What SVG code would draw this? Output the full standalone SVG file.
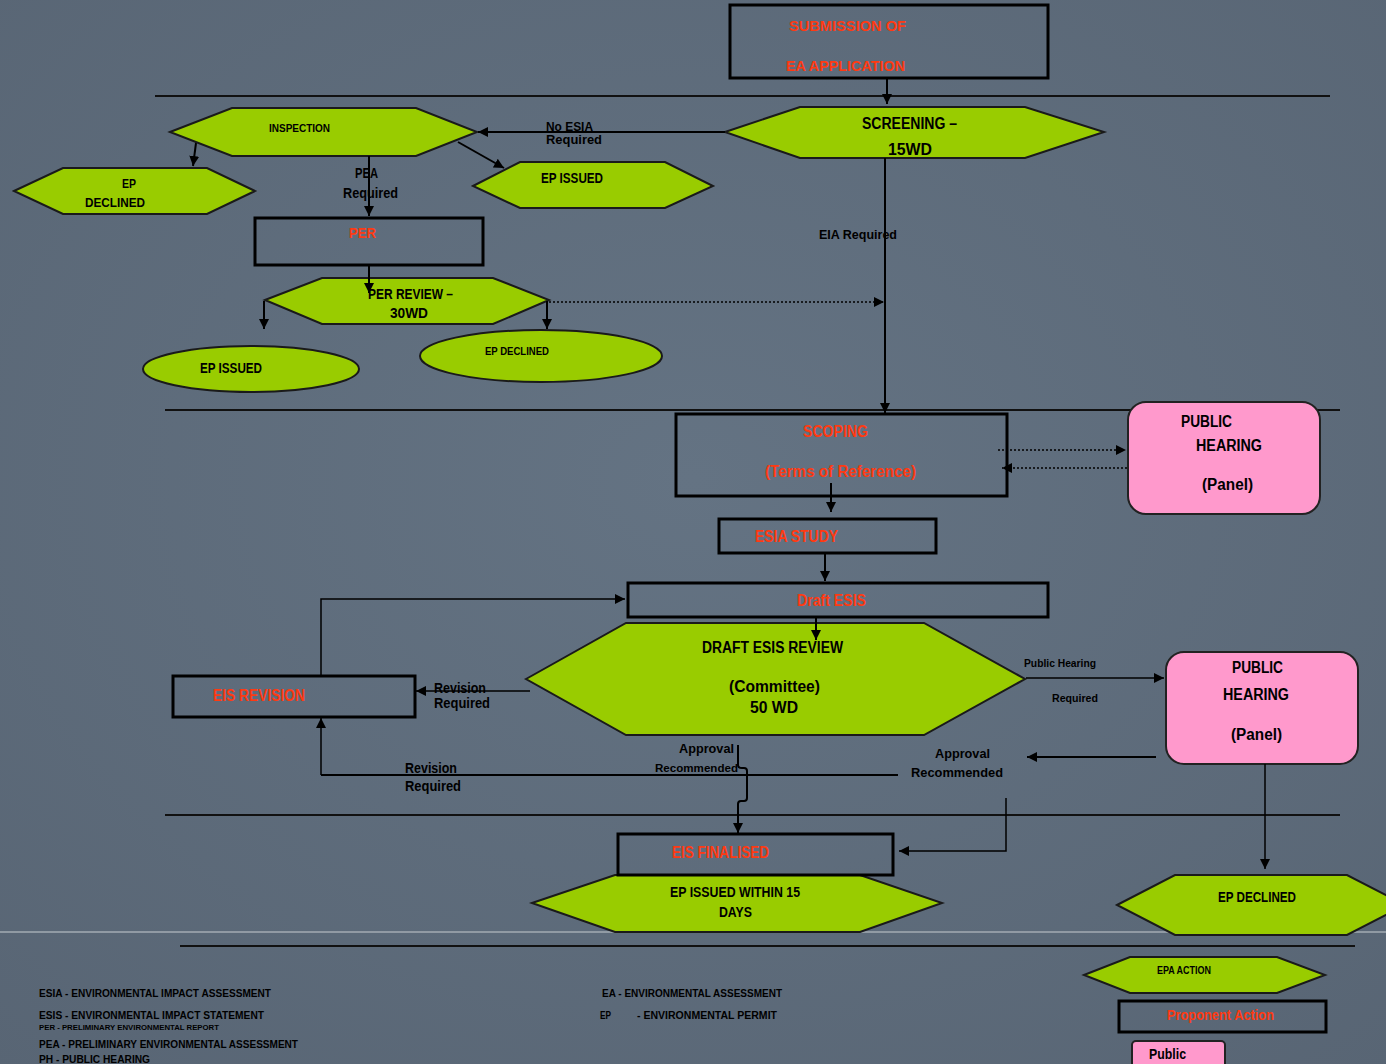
<svg xmlns="http://www.w3.org/2000/svg" width="1386" height="1064" viewBox="0 0 1386 1064">
  <defs>
    <radialGradient id="bg" cx="0.5" cy="0.45" r="0.75">
      <stop offset="0" stop-color="#647383"/>
      <stop offset="1" stop-color="#586574"/>
    </radialGradient>
    <marker id="ah" markerUnits="userSpaceOnUse" markerWidth="12" markerHeight="12" refX="10" refY="5" orient="auto">
      <path d="M0,0 L10,5 L0,10 z" fill="#000"/>
    </marker>
    <style>
      .hex { fill: #99cc00; stroke: #1a1a1a; stroke-width: 2; }
      .box { fill: none; stroke: #000; stroke-width: 3; }
      .ph { fill: #ff99cc; stroke: #222; stroke-width: 2; }
      .sep { stroke: #111; stroke-width: 2; }
      .t { font-family: "Liberation Sans", Arial, sans-serif; font-weight: bold; fill: #000; }
      .r { fill: #ff3a12; }
      .c { stroke: #000; stroke-width: 2; fill: none; }
      .thin { stroke: #000; stroke-width: 1.5; fill: none; }
      .dot { stroke: #000; stroke-width: 1.5; fill: none; stroke-dasharray: 2 2; }
    </style>
  </defs>

  <!-- backdrop and phase separators -->
  <rect width="1386" height="1064" fill="url(#bg)"/>
  <line x1="0" y1="932" x2="1386" y2="932" stroke="#a3abb3" stroke-width="1.5"/>
  <g id="separators">
    <line class="sep" x1="155" y1="96" x2="1330" y2="96"/>
    <line class="sep" x1="165" y1="410" x2="1340" y2="410"/>
    <line class="sep" x1="165" y1="815" x2="1340" y2="815"/>
    <line class="sep" x1="180" y1="946" x2="1355" y2="946"/>
  </g>

  <g id="submission">
    <rect class="box" x="730" y="5" width="318" height="73"/>
    <text class="t r" font-size="15.5" x="789" y="30.6" textLength="117" lengthAdjust="spacingAndGlyphs">SUBMISSION OF</text>
    <text class="t r" font-size="15.5" x="786" y="70.6" textLength="119" lengthAdjust="spacingAndGlyphs">EA APPLICATION</text>
  </g>

  <g id="screening">
    <polygon class="hex" points="725,132 800,107 1025,107 1104,132 1025,158 800,158"/>
    <text class="t" font-size="16" x="862" y="128.8" textLength="95" lengthAdjust="spacingAndGlyphs">SCREENING –</text>
    <text class="t" font-size="16" x="888" y="154.8" textLength="44" lengthAdjust="spacingAndGlyphs">15WD</text>
  </g>

  <g id="inspection">
    <polygon class="hex" points="170,132 232,108 416,108 477,132 416,156 232,156"/>
    <text class="t" font-size="11" x="269" y="131.5" textLength="61" lengthAdjust="spacingAndGlyphs">INSPECTION</text>
  </g>

  <g id="ep-declined-1">
    <polygon class="hex" points="14,191 63,168 207,168 255,191 207,214 63,214"/>
    <text class="t" font-size="13.5" x="122" y="188.4" textLength="14" lengthAdjust="spacingAndGlyphs">EP</text>
    <text class="t" font-size="13.5" x="85" y="207.4" textLength="60" lengthAdjust="spacingAndGlyphs">DECLINED</text>
  </g>

  <g id="ep-issued-1">
    <polygon class="hex" points="473,186 520,162 665,162 713,186 665,208 520,208"/>
    <text class="t" font-size="14" x="541" y="182.7" textLength="62" lengthAdjust="spacingAndGlyphs">EP ISSUED</text>
  </g>

  <g id="per">
    <rect class="box" x="255" y="218" width="228" height="47"/>
    <text class="t r" font-size="15" x="349" y="238" textLength="27" lengthAdjust="spacingAndGlyphs">PER</text>
  </g>

  <g id="per-review">
    <polygon class="hex" points="265,300 322,278 493,278 549,300 493,324 322,324"/>
    <text class="t" font-size="14" x="368" y="298.5" textLength="85" lengthAdjust="spacingAndGlyphs">PER REVIEW –</text>
    <text class="t" font-size="14" x="390" y="318.3" textLength="38" lengthAdjust="spacingAndGlyphs">30WD</text>
  </g>

  <g id="ep-issued-2">
    <ellipse class="hex" cx="251" cy="369" rx="108" ry="23"/>
    <text class="t" font-size="14" x="200" y="372.7" textLength="62" lengthAdjust="spacingAndGlyphs">EP ISSUED</text>
  </g>

  <g id="ep-declined-2">
    <ellipse class="hex" cx="541" cy="356" rx="121" ry="26"/>
    <text class="t" font-size="11" x="485" y="355.3" textLength="64" lengthAdjust="spacingAndGlyphs">EP DECLINED</text>
  </g>

  <g id="scoping">
    <rect class="box" x="676" y="414" width="331" height="82"/>
    <text class="t r" font-size="16" x="803" y="436.8" textLength="65" lengthAdjust="spacingAndGlyphs">SCOPING</text>
    <text class="t r" font-size="16" x="765" y="477" textLength="151" lengthAdjust="spacingAndGlyphs">(Terms of Reference)</text>
  </g>

  <g id="public-hearing-1">
    <rect class="ph" x="1128" y="402" width="192" height="112" rx="18"/>
    <text class="t" font-size="16" x="1181" y="426.6" textLength="51" lengthAdjust="spacingAndGlyphs">PUBLIC</text>
    <text class="t" font-size="16" x="1196" y="450.6" textLength="66" lengthAdjust="spacingAndGlyphs">HEARING</text>
    <text class="t" font-size="16" x="1202" y="490.2" textLength="51" lengthAdjust="spacingAndGlyphs">(Panel)</text>
  </g>

  <g id="esia-study">
    <rect class="box" x="719" y="519" width="217" height="34"/>
    <text class="t r" font-size="16" x="755" y="541.6" textLength="83" lengthAdjust="spacingAndGlyphs">ESIA STUDY</text>
  </g>

  <g id="draft-esis">
    <rect class="box" x="628" y="583" width="420" height="34"/>
    <text class="t r" font-size="16" x="797" y="605.8" textLength="69" lengthAdjust="spacingAndGlyphs">Draft ESIS</text>
  </g>

  <g id="draft-esis-review">
    <polygon class="hex" points="526,679 626,623 924,623 1025,679 924,735 626,735"/>
    <text class="t" font-size="16" x="702" y="652.5" textLength="141" lengthAdjust="spacingAndGlyphs">DRAFT ESIS REVIEW</text>
    <text class="t" font-size="16" x="729" y="692" textLength="91" lengthAdjust="spacingAndGlyphs">(Committee)</text>
    <text class="t" font-size="16" x="750" y="713.3" textLength="48" lengthAdjust="spacingAndGlyphs">50 WD</text>
  </g>

  <g id="eis-revision">
    <rect class="box" x="173" y="676" width="242" height="41"/>
    <text class="t r" font-size="16" x="213" y="700.5" textLength="92" lengthAdjust="spacingAndGlyphs">EIS REVISION</text>
  </g>

  <g id="public-hearing-2">
    <rect class="ph" x="1166" y="652" width="192" height="112" rx="18"/>
    <text class="t" font-size="16" x="1232" y="672.5" textLength="51" lengthAdjust="spacingAndGlyphs">PUBLIC</text>
    <text class="t" font-size="16" x="1223" y="700.3" textLength="66" lengthAdjust="spacingAndGlyphs">HEARING</text>
    <text class="t" font-size="16" x="1231" y="740.2" textLength="51" lengthAdjust="spacingAndGlyphs">(Panel)</text>
  </g>

  <g id="ep-issued-15-days">
    <polygon class="hex" points="532,903 615,875 860,875 942,903 860,932 615,932"/>
    <text class="t" font-size="14" x="670" y="896.7" textLength="130" lengthAdjust="spacingAndGlyphs">EP ISSUED WITHIN 15</text>
    <text class="t" font-size="14" x="719" y="917.3" textLength="33" lengthAdjust="spacingAndGlyphs">DAYS</text>
  </g>

  <g id="eis-finalised">
    <rect class="box" x="618" y="834" width="275" height="41"/>
    <text class="t r" font-size="16" x="672" y="857.8" textLength="97" lengthAdjust="spacingAndGlyphs">EIS FINALISED</text>
  </g>

  <g id="ep-declined-3">
    <polygon class="hex" points="1117,905 1175,875 1347,875 1405,905 1347,935 1175,935"/>
    <text class="t" font-size="14" x="1218" y="901.7" textLength="78" lengthAdjust="spacingAndGlyphs">EP DECLINED</text>
  </g>

  <!-- legend keys -->
  <g id="key-epa-action">
    <polygon class="hex" points="1084,975 1130,957 1277,957 1325,975 1277,993 1130,993"/>
    <text class="t" font-size="10" x="1157" y="974.4" textLength="54" lengthAdjust="spacingAndGlyphs">EPA ACTION</text>
  </g>
  <g id="key-proponent-action">
    <rect class="box" x="1119" y="1001" width="207" height="31"/>
    <text class="t r" font-size="14.5" x="1167" y="1019.7" textLength="107" lengthAdjust="spacingAndGlyphs">Proponent Action</text>
  </g>
  <g id="key-public">
    <rect class="ph" x="1132" y="1041" width="93" height="28" rx="4"/>
    <text class="t" font-size="14" x="1149" y="1058.7" textLength="37" lengthAdjust="spacingAndGlyphs">Public</text>
  </g>

  <g id="abbreviations">
    <text class="t" font-size="11" x="39" y="997.2" textLength="232" lengthAdjust="spacingAndGlyphs">ESIA - ENVIRONMENTAL IMPACT ASSESSMENT</text>
    <text class="t" font-size="11" x="39" y="1019.2" textLength="225" lengthAdjust="spacingAndGlyphs">ESIS - ENVIRONMENTAL IMPACT STATEMENT</text>
    <text class="t" font-size="8" x="39" y="1029.6" textLength="180" lengthAdjust="spacingAndGlyphs">PER - PRELIMINARY ENVIRONMENTAL REPORT</text>
    <text class="t" font-size="11" x="39" y="1048.2" textLength="259" lengthAdjust="spacingAndGlyphs">PEA - PRELIMINARY ENVIRONMENTAL ASSESSMENT</text>
    <text class="t" font-size="11" x="39" y="1063.2" textLength="111" lengthAdjust="spacingAndGlyphs">PH  - PUBLIC HEARING</text>
    <text class="t" font-size="11" x="602" y="997.2" textLength="180" lengthAdjust="spacingAndGlyphs">EA - ENVIRONMENTAL ASSESSMENT</text>
    <text class="t" font-size="11" x="600" y="1019.2" textLength="11" lengthAdjust="spacingAndGlyphs">EP</text>
    <text class="t" font-size="11" x="637" y="1019.2" textLength="140" lengthAdjust="spacingAndGlyphs">- ENVIRONMENTAL PERMIT</text>
  </g>

  <!-- flow connectors and their labels -->
  <g id="connectors">
    <path class="c" d="M887,78 V104" marker-end="url(#ah)"/>
    <path class="c" d="M725,132 H478" marker-end="url(#ah)"/>
    <path class="c" d="M196,143 L193,166" marker-end="url(#ah)"/>
    <path class="c" d="M458,142 L504,168" marker-end="url(#ah)"/>
    <path class="c" d="M369,156 V216" marker-end="url(#ah)"/>
    <path class="c" d="M369,265 V293" marker-end="url(#ah)"/>
    <path class="c" d="M264,301 V329" marker-end="url(#ah)"/>
    <path class="c" d="M547,301 V329" marker-end="url(#ah)"/>
    <path class="dot" d="M549,302 H884" marker-end="url(#ah)"/>
    <path class="c" d="M885,158 V413" stroke-width="2.5" marker-end="url(#ah)"/>
    <path class="dot" d="M998,450 H1126" marker-end="url(#ah)"/>
    <path class="dot" d="M1127,468 H1002" marker-end="url(#ah)"/>
    <path class="c" d="M831,483 V512" marker-end="url(#ah)"/>
    <path class="c" d="M825,553 V581" marker-end="url(#ah)"/>
    <path class="c" d="M816,617 V640" marker-end="url(#ah)"/>
    <path class="thin" d="M530,691 H416" marker-end="url(#ah)"/>
    <path class="thin" d="M321,676 V599 H625" marker-end="url(#ah)"/>
    <path class="c" d="M898,775 H321" stroke-width="3"/>
    <path class="thin" d="M321,775 V718" marker-end="url(#ah)"/>
    <path class="c" d="M738,745 V765 Q738,768 742,768 H744 Q747,768 747,771 V798 Q747,801 744,801 H741 Q738,801 738,804 V833" marker-end="url(#ah)"/>
    <path class="c" d="M1156,757 H1027" marker-end="url(#ah)"/>
    <path class="thin" d="M1006,798 V851 H899" marker-end="url(#ah)"/>
    <path class="thin" d="M1026,678 H1164" marker-end="url(#ah)"/>
    <path class="thin" d="M1265,764 V869" marker-end="url(#ah)"/>

    <text class="t" font-size="13.5" x="546" y="130.6" textLength="47" lengthAdjust="spacingAndGlyphs">No ESIA</text>
    <text class="t" font-size="13.5" x="546" y="144.4" textLength="56" lengthAdjust="spacingAndGlyphs">Required</text>
    <text class="t" font-size="14" x="355" y="177.7" textLength="23" lengthAdjust="spacingAndGlyphs">PEA</text>
    <text class="t" font-size="14" x="343" y="198" textLength="55" lengthAdjust="spacingAndGlyphs">Required</text>
    <text class="t" font-size="13.5" x="819" y="239.2" textLength="78" lengthAdjust="spacingAndGlyphs">EIA Required</text>
    <text class="t" font-size="14" x="434" y="692.7" textLength="52" lengthAdjust="spacingAndGlyphs">Revision</text>
    <text class="t" font-size="14" x="434" y="708.3" textLength="56" lengthAdjust="spacingAndGlyphs">Required</text>
    <text class="t" font-size="11" x="1024" y="666.7" textLength="72" lengthAdjust="spacingAndGlyphs">Public Hearing</text>
    <text class="t" font-size="11" x="1052" y="701.5" textLength="46" lengthAdjust="spacingAndGlyphs">Required</text>
    <text class="t" font-size="13.5" x="679" y="753.2" textLength="55" lengthAdjust="spacingAndGlyphs">Approval</text>
    <text class="t" font-size="11.5" x="655" y="771.6" textLength="83" lengthAdjust="spacingAndGlyphs">Recommended</text>
    <text class="t" font-size="14" x="405" y="772.7" textLength="52" lengthAdjust="spacingAndGlyphs">Revision</text>
    <text class="t" font-size="14" x="405" y="790.5" textLength="56" lengthAdjust="spacingAndGlyphs">Required</text>
    <text class="t" font-size="13.5" x="935" y="758.2" textLength="55" lengthAdjust="spacingAndGlyphs">Approval</text>
    <text class="t" font-size="13.5" x="911" y="777.2" textLength="92" lengthAdjust="spacingAndGlyphs">Recommended</text>
  </g>
</svg>
